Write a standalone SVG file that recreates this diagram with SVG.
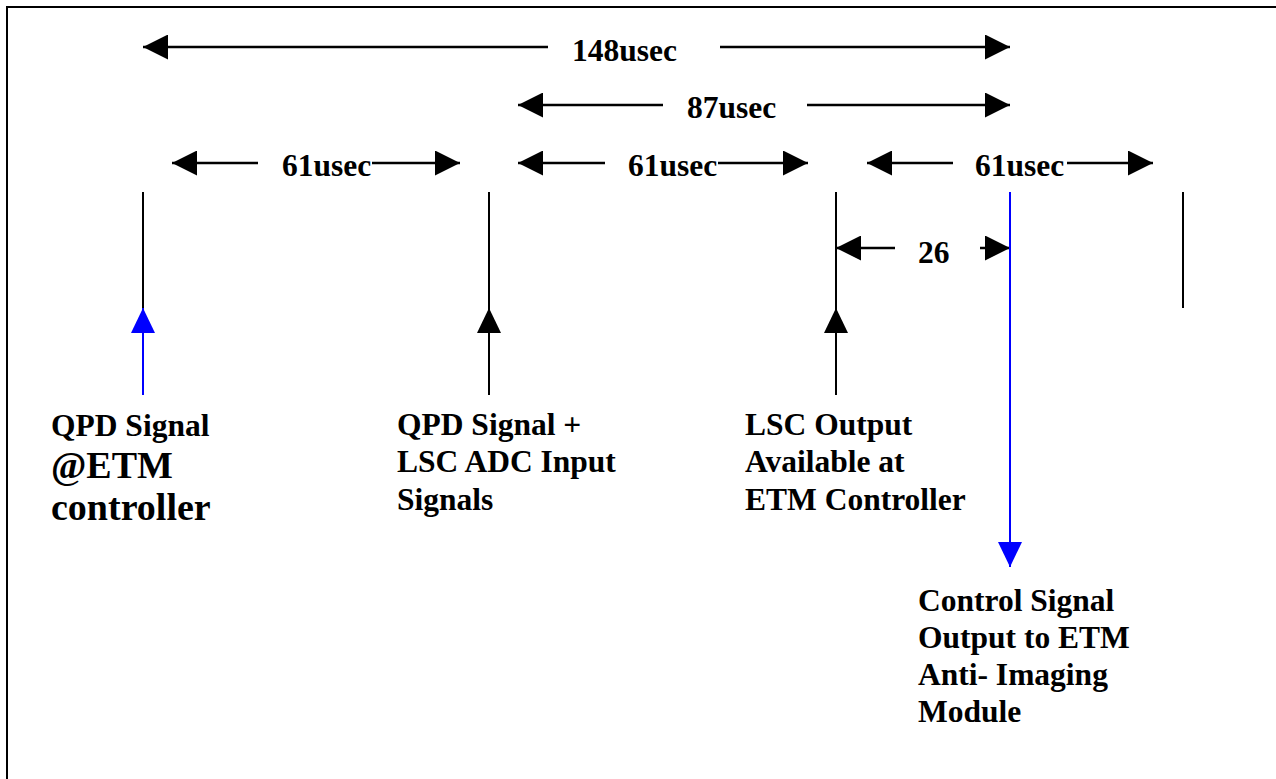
<svg xmlns="http://www.w3.org/2000/svg" width="1276" height="779" viewBox="0 0 1276 779">
<style>
  text { font-family: "Liberation Serif", "Times New Roman", serif; font-weight: bold; fill: #000; }
  .t { font-size: 31.5px; }
  .big { font-size: 38px; }
  .dim { stroke: #000; stroke-width: 2.5; fill: none; }
  .v { stroke: #000; stroke-width: 2; fill: none; }
  .vb { stroke: #0000FF; stroke-width: 2; fill: none; }
</style>
<defs>
  <marker id="ah" markerUnits="userSpaceOnUse" markerWidth="25" markerHeight="25" refX="25" refY="12.5" orient="auto-start-reverse" viewBox="0 0 25 25">
    <path d="M0,0 L25,12.5 L0,25 Z" fill="#000"/>
  </marker>
  <marker id="ahb" markerUnits="userSpaceOnUse" markerWidth="25" markerHeight="24" refX="25" refY="12" orient="auto" viewBox="0 0 25 24">
    <path d="M0,0 L25,12 L0,24 Z" fill="#0000FF"/>
  </marker>
  <marker id="ahk" markerUnits="userSpaceOnUse" markerWidth="25" markerHeight="24" refX="25" refY="12" orient="auto" viewBox="0 0 25 24">
    <path d="M0,0 L25,12 L0,24 Z" fill="#000"/>
  </marker>
</defs>
<rect x="0" y="0" width="1276" height="779" fill="#fff"/>
<rect x="7" y="7" width="1300" height="820" fill="none" stroke="#000" stroke-width="2"/>

<g id="connectors">
  <!-- 148usec -->
  <line class="dim" x1="548" y1="47" x2="143" y2="47" marker-end="url(#ah)"/>
  <line class="dim" x1="720" y1="47" x2="1010" y2="47" marker-end="url(#ah)"/>
  <!-- 87usec -->
  <line class="dim" x1="663" y1="105" x2="518" y2="105" marker-end="url(#ah)"/>
  <line class="dim" x1="807" y1="105" x2="1010" y2="105" marker-end="url(#ah)"/>
  <!-- 61usec #1 -->
  <line class="dim" x1="258" y1="163" x2="172" y2="163" marker-end="url(#ah)"/>
  <line class="dim" x1="372" y1="163" x2="460" y2="163" marker-end="url(#ah)"/>
  <!-- 61usec #2 -->
  <line class="dim" x1="605" y1="163" x2="518" y2="163" marker-end="url(#ah)"/>
  <line class="dim" x1="718" y1="163" x2="808" y2="163" marker-end="url(#ah)"/>
  <!-- 61usec #3 -->
  <line class="dim" x1="953" y1="163" x2="867" y2="163" marker-end="url(#ah)"/>
  <line class="dim" x1="1067" y1="163" x2="1153" y2="163" marker-end="url(#ah)"/>
  <!-- 26 -->
  <line class="dim" x1="895" y1="248" x2="836" y2="248" marker-end="url(#ah)"/>
  <line class="dim" x1="980" y1="248" x2="1010" y2="248" marker-end="url(#ah)"/>

  <!-- vertical timelines -->
  <line class="v" x1="143" y1="192" x2="143" y2="310"/>
  <line class="vb" x1="143" y1="395" x2="143" y2="308" marker-end="url(#ahb)"/>
  <line class="v" x1="489" y1="192" x2="489" y2="395"/>
  <line class="v" x1="489" y1="395" x2="489" y2="308" marker-end="url(#ahk)"/>
  <line class="v" x1="836" y1="192" x2="836" y2="395"/>
  <line class="v" x1="836" y1="395" x2="836" y2="308" marker-end="url(#ahk)"/>
  <line class="vb" x1="1010" y1="192" x2="1010" y2="567" marker-end="url(#ahb)"/>
  <line class="v" x1="1183" y1="192" x2="1183" y2="308"/>
</g>

<g id="dim-labels">
  <text class="t" x="572" y="61">148usec</text>
  <text class="t" x="687" y="118">87usec</text>
  <text class="t" x="282" y="176">61usec</text>
  <text class="t" x="628" y="176">61usec</text>
  <text class="t" x="975" y="176">61usec</text>
  <text class="t" x="918" y="263">26</text>
</g>

<g id="node-qpd-etm">
  <text class="t" x="51" y="436">QPD Signal</text>
  <text class="big" x="51" y="478">@ETM</text>
  <text class="big" x="51" y="520">controller</text>
</g>
<g id="node-qpd-lsc">
  <text class="t" x="397" y="435">QPD Signal +</text>
  <text class="t" x="397" y="472">LSC ADC Input</text>
  <text class="t" x="397" y="510">Signals</text>
</g>
<g id="node-lsc-output">
  <text class="t" x="745" y="435">LSC Output</text>
  <text class="t" x="745" y="472">Available at</text>
  <text class="t" x="745" y="510">ETM Controller</text>
</g>
<g id="node-control-signal">
  <text class="t" x="918" y="611">Control Signal</text>
  <text class="t" x="918" y="648">Output to ETM</text>
  <text class="t" x="918" y="685">Anti- Imaging</text>
  <text class="t" x="918" y="722">Module</text>
</g>
</svg>
